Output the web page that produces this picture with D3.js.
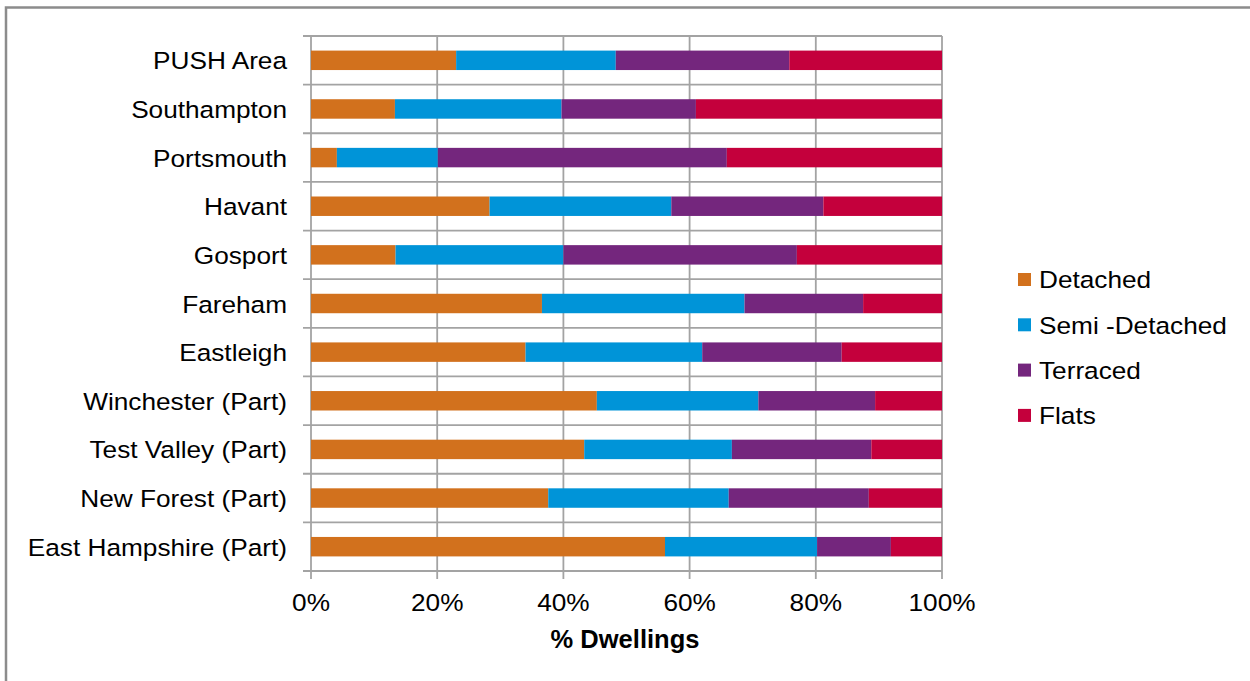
<!DOCTYPE html>
<html>
<head>
<meta charset="utf-8">
<script src="https://cdn.jsdelivr.net/npm/d3@7"></script>
<style>
  html, body { margin: 0; padding: 0; background: #fff; }
  svg { display: block; }
  text { font-family: "Liberation Sans", Arial, sans-serif; fill: #000; }
</style>
</head>
<body>
<svg id="chart" width="1250" height="681"></svg>
<script>
// ---- data (percent of dwellings) ----
const categories = ["PUSH Area", "Southampton", "Portsmouth", "Havant", "Gosport", "Fareham",
  "Eastleigh", "Winchester (Part)", "Test Valley (Part)", "New Forest (Part)", "East Hampshire (Part)"];
const seriesNames = ["Detached", "Semi -Detached", "Terraced", "Flats"];
const detached     = [23.0, 13.3,  4.1, 28.3, 13.4, 36.6, 34.0, 45.3, 43.3, 37.6, 56.1];
const semiDetached = [25.3, 26.4, 16.0, 28.8, 26.6, 32.1, 28.0, 25.6, 23.4, 28.6, 24.1];
const terraced     = [27.5, 21.3, 45.8, 24.1, 37.0, 18.8, 22.1, 18.5, 22.1, 22.2, 11.7];
const flats        = [24.2, 39.0, 34.1, 18.8, 23.0, 12.5, 15.9, 10.6, 11.2, 11.6,  8.1];
const xTicks = [0, 20, 40, 60, 80, 100];
const colors = ["#D2711D", "#0094D8", "#74267D", "#C4003C"];

const seriesValues = [detached, semiDetached, terraced, flats];
const rows = categories.map((c, i) => {
  const r = { cat: c };
  seriesNames.forEach((s, j) => r[s] = seriesValues[j][i]);
  return r;
});

const svg = d3.select("#chart");
const L = 311, R = 942, T = 36, B = 571;
const FS = 24.5, SX = 1.07;
const gridColor = "#A3A3A3";

// outer chart border
svg.append("rect").attr("x", 6).attr("y", 7.5).attr("width", 1400).attr("height", 1000)
  .attr("fill", "none").attr("stroke", "#8c8c8c").attr("stroke-width", 2.5);

const x = d3.scaleLinear().domain([0, 100]).range([L, R]);
const y = d3.scaleBand().domain(categories).range([T, B]).paddingInner(0.6).paddingOuter(0.3);
const step = y.step();

// vertical gridlines + bottom ticks
svg.append("g").selectAll("line").data(xTicks).join("line")
  .attr("x1", d => x(d)).attr("x2", d => x(d))
  .attr("y1", T).attr("y2", B + 8)
  .attr("stroke", gridColor).attr("stroke-width", 1.8);

// horizontal gridlines at category boundaries + left ticks
const bounds = d3.range(categories.length + 1).map(i => T + i * step);
svg.append("g").selectAll("line").data(bounds).join("line")
  .attr("x1", L - 8).attr("x2", R)
  .attr("y1", d => d).attr("y2", d => d)
  .attr("stroke", gridColor).attr("stroke-width", 1.8);

// stacked bars
const stack = d3.stack().keys(seriesNames);
const stacked = stack(rows);
const barsG = svg.append("g");
stacked.forEach((layer, j) => {
  barsG.append("g").attr("fill", colors[j]).selectAll("rect").data(layer).join("rect")
    .attr("x", d => x(d[0]))
    .attr("width", d => x(d[1]) - x(d[0]))
    .attr("y", d => y(d.data.cat))
    .attr("height", y.bandwidth());
});

// helper for horizontally stretched text
function stretchedText(g, tx, ty, str, anchor) {
  return g.append("text")
    .attr("transform", `translate(${tx},${ty}) scale(${SX},1)`)
    .attr("text-anchor", anchor)
    .style("font-size", FS + "px")
    .text(str);
}

// category labels
const catG = svg.append("g");
categories.forEach(c => {
  stretchedText(catG, 287, y(c) + y.bandwidth() / 2 + 9, c, "end");
});

// x tick labels
const xtG = svg.append("g");
xTicks.forEach(t => {
  stretchedText(xtG, x(t), 611, t + "%", "middle");
});

// axis title
svg.append("text").attr("x", 625).attr("y", 648).attr("text-anchor", "middle")
  .style("font-size", "25.5px").style("font-weight", "bold").text("% Dwellings");

// legend
const legG = svg.append("g");
seriesNames.forEach((s, j) => {
  const cy = 279.5 + j * 45.3;
  legG.append("rect").attr("x", 1018).attr("y", cy - 6.5).attr("width", 13).attr("height", 13)
    .attr("fill", colors[j]);
  stretchedText(legG, 1039, cy + 8.8, s, "start");
});
</script>
</body>
</html>
